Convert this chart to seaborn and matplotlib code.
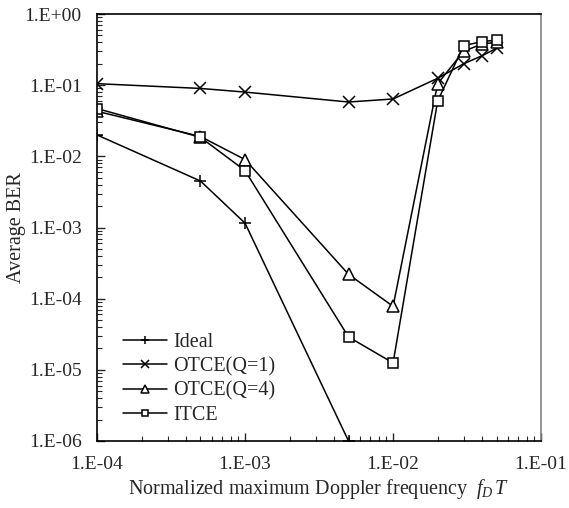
import pandas as pd
import seaborn as sns
import matplotlib.pyplot as plt
from matplotlib.ticker import LogLocator, FixedFormatter, NullFormatter

fdt = [1e-4, 5e-4, 1e-3, 5e-3, 1e-2, 2e-2, 3e-2, 4e-2, 5e-2]
ideal = [2.0e-2, 4.5e-3, 1.15e-3, 1.0e-6]
otce_q1 = [1.05e-1, 9.0e-2, 8.0e-2, 5.8e-2, 6.4e-2, 1.25e-1, 2.0e-1, 2.6e-1, 3.3e-1]
otce_q4 = [4.3e-2, 1.9e-2, 9.0e-3, 2.2e-4, 7.8e-5, 1.05e-1, 3.0e-1, 3.8e-1, 4.0e-1]
itce = [4.7e-2, 1.85e-2, 6.3e-3, 2.9e-5, 1.25e-5, 6.0e-2, 3.6e-1, 4.1e-1, 4.3e-1]
names = ["Ideal", "OTCE(Q=1)", "OTCE(Q=4)", "ITCE"]
markers = ["+", "x", "^", "s"]
msizes = [9, 8, 8, 7]
y_ticks = ["1.E-06", "1.E-05", "1.E-04", "1.E-03", "1.E-02", "1.E-01", "1.E+00"]
x_ticks = ["1.E-04", "1.E-03", "1.E-02", "1.E-01"]

sns.set_style("ticks")
plt.rcParams["font.family"] = ["Liberation Serif", "DejaVu Serif"]
plt.rcParams["mathtext.fontset"] = "custom"
plt.rcParams["mathtext.rm"] = "Liberation Serif"
plt.rcParams["mathtext.it"] = "Liberation Serif:italic"

fig = plt.figure(figsize=(5.69, 5.08), dpi=100)
ax = fig.add_axes([0.1705, 0.1319, 0.7805, 0.8405])

for name, vals, mk, ms in zip(names, [ideal, otce_q1, otce_q4, itce], markers, msizes):
    df = pd.DataFrame({"fdt": fdt[:len(vals)], "ber": vals})
    sns.lineplot(data=df, x="fdt", y="ber", marker=mk, color="black",
                 estimator=None, sort=False, ax=ax, label=name,
                 linewidth=1.1, markersize=ms, markerfacecolor="white",
                 markeredgecolor="black", markeredgewidth=1.1)

ax.set_xscale("log")
ax.set_yscale("log")
ax.set_xlim(1e-4, 1e-1)
ax.set_ylim(1e-6, 1e0)

ax.set_xticks([1e-4, 1e-3, 1e-2, 1e-1])
ax.xaxis.set_major_formatter(FixedFormatter(x_ticks))
ax.set_yticks([1e-6, 1e-5, 1e-4, 1e-3, 1e-2, 1e-1, 1e0])
ax.yaxis.set_major_formatter(FixedFormatter(y_ticks))
for axis in (ax.xaxis, ax.yaxis):
    axis.set_minor_locator(LogLocator(base=10, subs=range(2, 10)))
    axis.set_minor_formatter(NullFormatter())
ax.tick_params(which="major", direction="in", length=6, width=1, labelsize=14, pad=11)
ax.tick_params(which="minor", direction="in", length=3.5, width=0.8)

for sp in ax.spines.values():
    sp.set_linewidth(1.2)
    sp.set_color("black")
ax.spines["right"].set_color("#808080")

ax.set_xlabel("Normalized maximum Doppler frequency  $f_D\\,T$", fontsize=14.5, labelpad=3)
ax.set_ylabel("Average BER", fontsize=14.5)
ax.yaxis.set_label_coords(-0.161, 0.5)

ax.legend(loc="upper left", bbox_to_anchor=(0.058, 0.253),
          frameon=False, fontsize=14.5, handlelength=2.2, handletextpad=0.3,
          labelspacing=0.25, borderaxespad=0, borderpad=0, markerscale=0.7)

plt.savefig("out.png", dpi=100)
